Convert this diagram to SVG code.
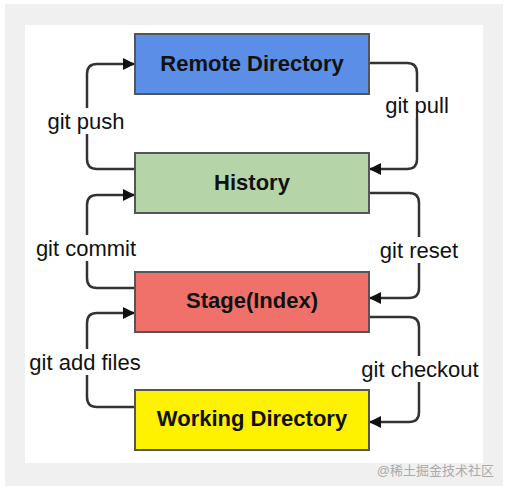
<svg xmlns="http://www.w3.org/2000/svg" width="508" height="489" viewBox="0 0 508 489">
<style>
.box{stroke:#555;stroke-width:2}
.nt{font-family:"Liberation Sans",Arial,sans-serif;font-weight:bold;font-size:22px;fill:#111;text-anchor:middle;dominant-baseline:central}
.lb{font-family:"Liberation Sans",Arial,sans-serif;font-size:22px;fill:#111;text-anchor:middle;dominant-baseline:central}
.c{fill:none;stroke:#333;stroke-width:2.5;marker-end:url(#ah)}
.wm{font-family:"Liberation Sans","Noto Sans CJK SC",sans-serif;font-size:13px;fill:#aaa;text-anchor:end}
</style>
<defs>
<marker id="ah" viewBox="0 0 12 12" refX="11" refY="6" markerWidth="12" markerHeight="12" markerUnits="userSpaceOnUse" orient="auto">
<path d="M0,0 L12,6 L0,12 Z" fill="#111"/>
</marker>
</defs>
<rect x="0" y="0" width="508" height="489" fill="#fff"/>
<rect x="5" y="4" width="498" height="482" fill="#f0f0f0"/>
<rect x="25" y="25" width="458" height="438" fill="#fff"/>
<g id="connectors">
<g id="push"><path class="c" d="M135,169 H97 Q87,169 87,159 V74 Q87,64 97,64 H134"/><rect x="44" y="108" width="86" height="26" fill="#fff"/><text class="lb" x="86" y="121">git push</text></g>
<g id="pull"><path class="c" d="M369,63 H407 Q417,63 417,73 V159 Q417,169 407,169 H370"/><rect x="380" y="92" width="74" height="26" fill="#fff"/><text class="lb" x="417" y="105">git pull</text></g>
<g id="commit"><path class="c" d="M135,288 H97 Q87,288 87,278 V205 Q87,195 97,195 H134"/><rect x="32" y="235" width="108" height="26" fill="#fff"/><text class="lb" x="86" y="248">git commit</text></g>
<g id="reset"><path class="c" d="M369,193 H409 Q419,193 419,203 V288 Q419,298 409,298 H370"/><rect x="374" y="237" width="90" height="26" fill="#fff"/><text class="lb" x="419" y="250">git reset</text></g>
<g id="add"><path class="c" d="M135,407 H97 Q87,407 87,397 V323 Q87,313 97,313 H134"/><rect x="26" y="349" width="118" height="26" fill="#fff"/><text class="lb" x="85" y="362">git add files</text></g>
<g id="checkout"><path class="c" d="M369,317 H409 Q419,317 419,327 V412 Q419,422 409,422 H370"/><rect x="358" y="356" width="124" height="26" fill="#fff"/><text class="lb" x="420" y="369">git checkout</text></g>
</g>
<g id="remote"><rect class="box" x="135" y="34" width="234" height="60" fill="#5b8ee6"/><text class="nt" x="252" y="63">Remote Directory</text></g>
<g id="history"><rect class="box" x="135" y="153" width="234" height="60" fill="#b5d4a7"/><text class="nt" x="252" y="182">History</text></g>
<g id="stage"><rect class="box" x="135" y="272" width="234" height="60" fill="#ef716a"/><text class="nt" x="252" y="300">Stage(Index)</text></g>
<g id="working"><rect class="box" x="135" y="390" width="234" height="60" fill="#fff200"/><text class="nt" x="252" y="418">Working Directory</text></g>
<text class="wm" x="494" y="475">@稀土掘金技术社区</text>
</svg>
